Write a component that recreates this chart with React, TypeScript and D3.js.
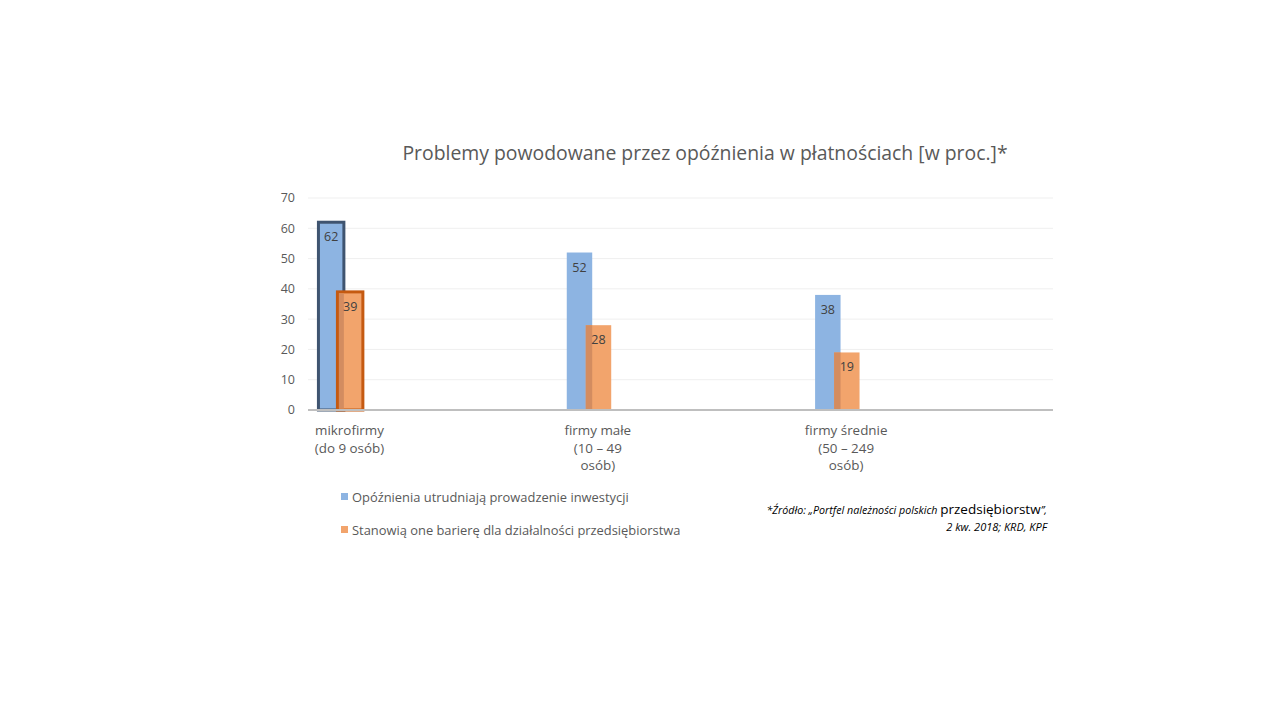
import React from "react";
import * as d3 from "d3";

const categories = ["mikrofirmy", "firmy małe", "firmy średnie"];
const categoryLines = [
  ["mikrofirmy", "(do 9 osób)"],
  ["firmy małe", "(10 – 49", "osób)"],
  ["firmy średnie", "(50 – 249", "osób)"],
];
const seriesNames = [
  "Opóźnienia utrudniają prowadzenie inwestycji",
  "Stanowią one barierę dla działalności przedsiębiorstwa",
];
const seriesA = [62, 52, 38];
const seriesB = [39, 28, 19];
const yTicks = [0, 10, 20, 30, 40, 50, 60, 70];
const highlighted = [true, false, false];

const BLUE = "#8db4e2";
const ORANGE = "#f2a46c";
const OVERLAP = "#d38c60";
const FONT = "'Open Sans', sans-serif";

export default function App() {
  const x = d3.scaleBand<string>().domain(categories).range([308, 1053]).padding(0);
  const y = d3.scaleLinear().domain([0, 70]).range([410, 198]);
  const bw = x.bandwidth();
  const offA = bw * 0.042;
  const offB = bw * 0.1185;
  const barW = bw * 0.1025;
  const labelOff = bw * 0.167;

  return (
    <div style={{ position: "absolute", left: 0, top: 0 }}>
      <svg width={1280} height={720} style={{ display: "block", background: "#fff" }}>
        <text x={705} y={160} textAnchor="middle" fontFamily={FONT} fontSize={19.4} fill="#595959">
          Problemy powodowane przez opóźnienia w płatnościach [w proc.]*
        </text>
        {yTicks.map((t) => (
          <g key={t}>
            {t > 0 && (
              <line x1={308} x2={1053} y1={y(t)} y2={y(t)} stroke="#efefef" strokeWidth={1} />
            )}
            <text x={295} y={y(t)} dy="0.35em" textAnchor="end" fontFamily={FONT} fontSize={12.5} fill="#595959">
              {t}
            </text>
          </g>
        ))}
        {categories.map((c, i) => {
          const x0 = x(c)!;
          const ax = x0 + offA;
          const bx = x0 + offB;
          const ay = y(seriesA[i]);
          const by = y(seriesB[i]);
          const hl = highlighted[i];
          return (
            <g key={c}>
              <rect x={ax} y={ay} width={barW} height={y(0) - ay} fill={BLUE}
                stroke={hl ? "#3f5470" : "none"} strokeWidth={hl ? 3 : 0} />
              <rect x={bx} y={by} width={barW} height={y(0) - by} fill={ORANGE}
                stroke={hl ? "#c55a11" : "none"} strokeWidth={hl ? 3 : 0} />
              <rect x={bx + (hl ? 1.5 : 0)} y={by + (hl ? 1.5 : 0)} width={ax + barW - bx - (hl ? 1.5 : 0)}
                height={y(0) - by - (hl ? 3 : 0)} fill={OVERLAP} />
              <text x={ax + barW / 2} y={ay + 19} textAnchor="middle" fontFamily={FONT} fontSize={12.5} fill="#404040">
                {seriesA[i]}
              </text>
              <text x={bx + barW / 2} y={by + 19} textAnchor="middle" fontFamily={FONT} fontSize={12.5} fill="#404040">
                {seriesB[i]}
              </text>
              {categoryLines[i].map((l, j) => (
                <text key={j} x={x0 + labelOff} y={435 + j * 17.5} textAnchor="middle" fontFamily={FONT} fontSize={13.4} fill="#595959">
                  {l}
                </text>
              ))}
            </g>
          );
        })}
        <line x1={308} x2={1053} y1={y(0)} y2={y(0)} stroke="#bfbfbf" strokeWidth={2} />
        {seriesNames.map((s, i) => (
          <g key={s}>
            <rect x={341} y={493 + i * 33} width={7} height={7} fill={i === 0 ? BLUE : ORANGE} />
            <text x={352} y={497 + i * 33} dy="0.35em" fontFamily={FONT} fontSize={12.9} fill="#595959">
              {s}
            </text>
          </g>
        ))}
        <text x={1047} y={514} textAnchor="end" fontFamily={FONT} fill="#000">
          <tspan fontStyle="italic" fontSize={10.7}>*Źródło: „Portfel należności polskich </tspan>
          <tspan fontSize={13.5}>przedsiębiorstw</tspan>
          <tspan fontStyle="italic" fontSize={10.7}>”,</tspan>
        </text>
        <text x={1047} y={531} textAnchor="end" fontFamily={FONT} fontStyle="italic" fontSize={11} fill="#000">
          2 kw. 2018; KRD, KPF
        </text>
      </svg>
    </div>
  );
}
